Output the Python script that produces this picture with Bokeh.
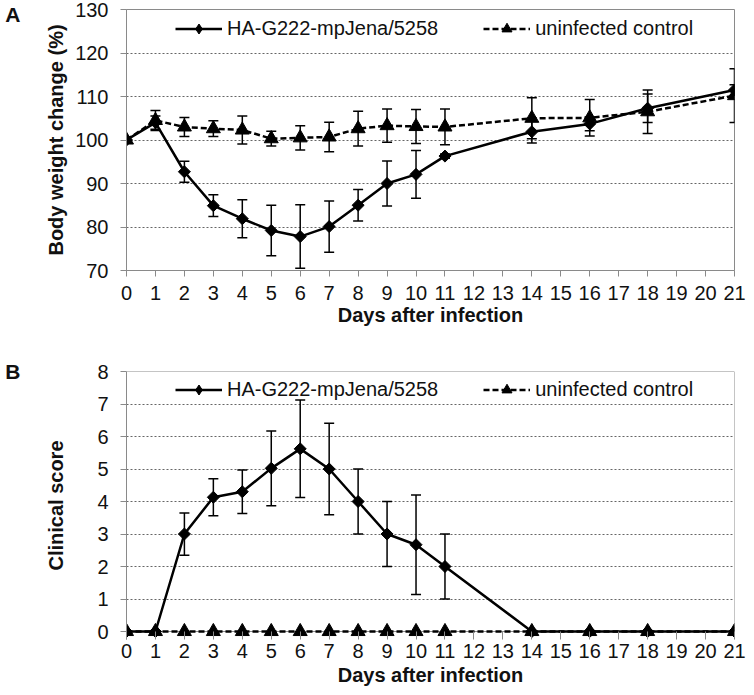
import math
from bokeh.plotting import figure
from bokeh.models import (ColumnDataSource, Whisker, TeeHead, Legend, LegendItem,
                          FixedTicker, Range1d, Span, LinearAxis)
from bokeh.layouts import column
from bokeh.embed import file_html
from bokeh.resources import INLINE

# ---------------- data ----------------
days = [0, 1, 2, 3, 4, 5, 6, 7, 8, 9, 10, 11, 14, 16, 18, 21]
x_ticks = list(range(0, 22))

infected_name = "HA-G222-mpJena/5258"
control_name = "uninfected control"

# Panel A: body weight change (%)
inf_weight = [100, 104.0, 92.7, 84.9, 81.9, 79.2, 77.8, 80.1, 85.0, 90.0, 92.1, 96.3, 101.9, 103.7, 107.3, 111.5]
inf_weight_sd = [0, 1.5, 2.4, 2.5, 4.35, 5.8, 7.3, 5.9, 3.6, 5.2, 5.5, 0.5, 2.6, 1.6, 3.3, 1.2]
ctl_weight = [100, 104.5, 103.0, 102.6, 102.3, 100.3, 100.5, 100.7, 102.6, 103.3, 103.1, 103.0, 105.0, 105.1, 106.5, 110.2]
ctl_weight_sd = [0, 2.3, 2.2, 1.8, 3.2, 1.7, 2.8, 3.4, 4.0, 3.8, 3.9, 4.1, 4.7, 4.2, 5.0, 6.2]
weight_ticks = [70, 80, 90, 100, 110, 120, 130]

# Panel B: clinical score
inf_score = [0, 0, 3.0, 4.13, 4.3, 5.02, 5.62, 5.0, 4.0, 3.0, 2.67, 2.0, 0, 0, 0, 0]
inf_score_sd = [0, 0, 0.65, 0.57, 0.67, 1.15, 1.5, 1.41, 1.0, 1.0, 1.53, 1.0, 0, 0, 0, 0]
ctl_score = [0, 0, 0, 0, 0, 0, 0, 0, 0, 0, 0, 0, 0, 0, 0, 0]
ctl_score_sd = [0] * 16
score_ticks = [0, 1, 2, 3, 4, 5, 6, 7, 8]

FONT = "Liberation Sans"
GRAY = "#8a8a8a"
TXT = "#111111"
LEG_H = 25
ZERO_GAP_PX = 8  # frame of panel B reaches this far below the zero line


def err_source(xs, ys, sds):
    xx = [x for x, s in zip(xs, sds) if s > 0]
    lo = [y - s for y, s in zip(ys, sds) if s > 0]
    hi = [y + s for y, s in zip(ys, sds) if s > 0]
    return ColumnDataSource(dict(x=xx, lower=lo, upper=hi))


def style_axis(ax):
    ax.axis_line_color = GRAY
    ax.major_tick_line_color = GRAY
    ax.minor_tick_line_color = None
    ax.major_label_text_font = FONT
    ax.major_label_text_font_size = "20px"
    ax.major_label_text_color = TXT
    ax.axis_label_text_font = FONT
    ax.axis_label_text_font_size = "20px"
    ax.axis_label_text_font_style = "bold"
    ax.axis_label_text_color = TXT


def make_panel(h, border_top, border_bottom, yr, yticks, ylabel, letter,
               inf_y, inf_sd, ctl_y, ctl_sd, title_standoff, zero_gap=False):
    p = figure(width=754, height=h, output_backend="svg", toolbar_location=None,
               x_range=Range1d(x_ticks[0], x_ticks[-1]), y_range=Range1d(*yr),
               min_border_left=126, min_border_right=20,
               min_border_top=border_top, min_border_bottom=border_bottom)
    p.xgrid.visible = False
    p.ygrid.grid_line_color = "#666666"
    p.ygrid.grid_line_dash = "2 2"
    p.ygrid.grid_line_width = 1
    p.xaxis.ticker = FixedTicker(ticks=x_ticks)
    p.yaxis.ticker = FixedTicker(ticks=yticks)
    style_axis(p.xaxis[0])
    style_axis(p.yaxis[0])
    p.yaxis.major_tick_in = 0
    p.yaxis.major_tick_out = 6
    p.yaxis.major_label_standoff = 12
    p.xaxis.axis_label = "Days after infection"
    p.yaxis.axis_label = ylabel
    p.yaxis.axis_label_standoff = title_standoff

    if not zero_gap:
        p.outline_line_color = GRAY
        p.outline_line_width = 1
        p.xaxis.major_tick_in = 0
        p.xaxis.major_tick_out = 6
        p.xaxis.major_label_standoff = 9
        p.xaxis.axis_label_standoff = 1
    else:
        # frame reaches a few px below zero so the markers on zero are not cut;
        # the visible baseline is drawn at zero, ticks hang from it
        p.outline_line_color = None
        p.xaxis.axis_line_color = None
        p.xaxis.major_tick_in = ZERO_GAP_PX
        p.xaxis.major_tick_out = 0
        p.xaxis.major_label_standoff = 4
        p.xaxis.axis_label_standoff = 3
        p.add_layout(Span(location=yticks[0], dimension="width", line_color=GRAY,
                          line_width=1, level="underlay"))
        p.add_layout(Span(location=x_ticks[-1], dimension="height", line_color=GRAY, line_width=1))
        p.add_layout(Span(location=yticks[-1], dimension="width", line_color=GRAY, line_width=1))

    # panel letter, shown as the label of an otherwise invisible left axis
    letter_axis = LinearAxis(ticker=FixedTicker(ticks=[yticks[-1]]),
                             major_label_overrides={yticks[-1]: letter},
                             axis_line_color=None, major_tick_line_color=None,
                             minor_tick_line_color=None,
                             major_label_standoff=16,
                             major_label_text_font=FONT, major_label_text_font_size="21px",
                             major_label_text_font_style="bold", major_label_text_color=TXT)
    p.add_layout(letter_axis, "left")

    # error bars
    for ys, sds in ((ctl_y, ctl_sd), (inf_y, inf_sd)):
        src = err_source(days, ys, sds)
        if len(src.data["x"]):
            w = Whisker(source=src, base="x", lower="lower", upper="upper",
                        line_color="black", line_width=1.5,
                        upper_head=TeeHead(size=10, line_color="black", line_width=1.5),
                        lower_head=TeeHead(size=10, line_color="black", line_width=1.5))
            p.add_layout(w)

    cl = p.line(days, ctl_y, line_color="black", line_width=2.5, line_dash="6 3")
    cm = p.scatter(days, ctl_y, marker="triangle", size=14, fill_color="black", line_color="black")
    il = p.line(days, inf_y, line_color="black", line_width=2.5)
    # diamond glyph (used by the legend, which never rotates markers) ...
    im_leg = p.scatter(days, inf_y, marker="diamond", size=9, fill_color="black", line_color="black")
    # ... covered by the wider, square-shaped diamonds of the plot
    p.scatter(days, inf_y, marker="square", angle=math.pi / 4, size=8.5,
              fill_color="black", line_color="black")

    legend = Legend(items=[LegendItem(label=infected_name, renderers=[il, im_leg]),
                           LegendItem(label=control_name, renderers=[cl, cm])],
                    orientation="horizontal",
                    glyph_width=47, glyph_height=LEG_H, label_height=LEG_H,
                    label_standoff=5, spacing=45,
                    padding=0, margin=0, border_line_color=None, background_fill_alpha=0,
                    label_text_font=FONT, label_text_font_size="20px",
                    label_text_color=TXT)
    p.add_layout(legend)
    return p


# panel B frame: 371..639 px; zero line at 631 px
b_frame_px = 268
b_ymin = -score_ticks[-1] * ZERO_GAP_PX / (b_frame_px - ZERO_GAP_PX)

pA = make_panel(334, 9, 64, (weight_ticks[0], weight_ticks[-1]), weight_ticks,
                "Body weight change (%)", "A",
                inf_weight, inf_weight_sd, ctl_weight, ctl_weight_sd, 5)
pB = make_panel(361, 37, 56, (b_ymin, score_ticks[-1]), score_ticks, "Clinical score", "B",
                inf_score, inf_score_sd, ctl_score, ctl_score_sd, 27, zero_gap=True)

# legend rows centred ~20px below the frame top
pA.legend[0].location = (49, 261 - 20 - LEG_H // 2)
pB.legend[0].location = (49, b_frame_px - 19 - LEG_H // 2)

layout = column(pA, pB, spacing=0)
open("out.html", "w").write(file_html(layout, INLINE))
